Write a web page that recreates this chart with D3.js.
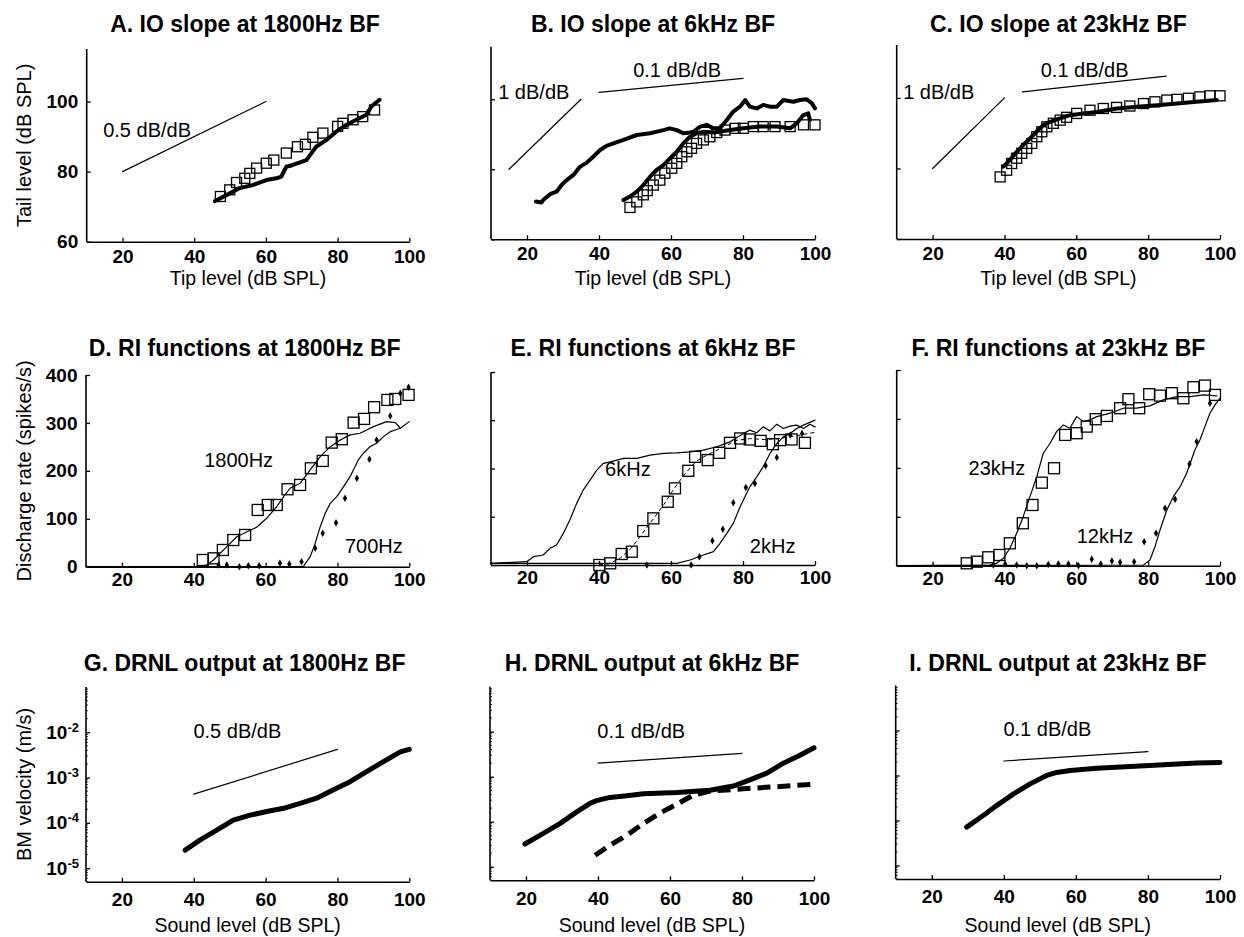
<!DOCTYPE html>
<html><head><meta charset="utf-8">
<script src="https://cdn.jsdelivr.net/npm/d3@7"></script>
<style>
body{margin:0;background:#fff}
svg{display:block}
</style>
</head><body>
<svg id="c" width="1244" height="937"></svg>
<script>
// ---------------- DATA ----------------
const xDomain = [10, 100];
const xTicks = [20, 40, 60, 80, 100];
const ioTicks = [60, 80, 100];
const riTicks = [0, 100, 200, 300, 400];
const bmTicks = [1e-5, 1e-4, 1e-3, 1e-2];

// A. IO slope at 1800Hz BF  [tip, tail]
const aModel = [[45.8,71.6],[49,73.3],[52.7,75.3],[56.4,76.2],[60.1,77.6],[62.9,78.1],[64.3,78.6],[65.7,81.4],[67.5,81.9],[71.3,83.3],[72.7,85.3],[74,87.1],[76.8,89],[79.6,91.4],[82.4,93.3],[85.2,94.8],[88,96.2],[89.4,98.6],[91.7,100.5]];
const aData = [[47.3,72.9],[49.9,74.8],[51.8,76.9],[54.1,78.1],[55.5,79.5],[57.4,81],[60.1,82.4],[62.2,83.3],[65.7,85.3],[68.8,87.1],[71,87.8],[73.1,89.8],[75.9,91],[80,92.9],[81.5,93.8],[84.3,94.8],[87,95.7],[90.3,97.6]];
const aSlope = [[20,80],[60,100]];

// B. IO slope at 6kHz BF
const bModel1 = [[22.5,70.8],[24,70.5],[24.5,71.2],[26.4,72.9],[28.2,73.6],[29.6,75.5],[31,76.9],[32.9,78.4],[34.7,80.7],[36.6,81.9],[38.4,83.6],[40.3,85.5],[42.1,86.7],[44,87.4],[46.8,88.4],[50.5,89.8],[54.2,90.3],[57.9,91.2],[59.7,91.7],[61.6,91.2],[63.4,90.3],[65.3,90.5],[66.2,90.7],[68.1,92.2],[69.9,92.7],[71.8,91.7],[73.6,91.7],[75.5,94.1],[77.3,96.5],[79.2,97.9],[80.6,99.8],[81.9,97.9],[83.8,97.4],[85.6,98.4],[87.5,97.9],[89.4,97.9],[91.2,99.8],[94,99.3],[95.8,99.8],[97.7,100],[99.1,98.9],[100,97.4]];
const bModel2 = [[46.8,71.2],[48.6,72.2],[50.5,73.6],[52.3,75.5],[54.2,77.9],[56,79.8],[57.9,81.2],[59.7,83.1],[61.6,85],[63.4,87.4],[65.3,89.3],[67.1,90.3],[69,90.7],[72,90.5],[76.4,91.2],[80.1,91.7],[84.7,92.2],[89.4,92.2],[93.1,91.7],[94.9,93.1],[96.8,95.5],[98.1,96],[98.6,94.1]];
const bData = [[48.6,69.1],[50.5,70.7],[52.3,72.7],[53.4,73.9],[55.1,75.5],[56.9,76.9],[58.3,78.9],[60.2,80.3],[61.6,81.7],[63,83.6],[64.4,85],[65.7,86],[67.1,87.4],[69,88.4],[70.8,89.3],[72.7,90.5],[75,91.2],[77.8,91.7],[80.1,91.7],[82.9,92.2],[85.6,92.2],[88.9,92.2],[93.1,92.2],[96.8,92.7],[100,92.7]];
const bSlope1 = [[15,80],[35,100]];
const bSlope2 = [[40,102],[80,106]];

// C. IO slope at 23kHz BF
const cModel = [[39.7,80.5],[41.5,82.4],[43.4,84.7],[45.2,86.6],[47.1,88.5],[48.9,90.4],[50.8,92.3],[52.7,93.2],[55.5,94.2],[58.2,95.1],[62,95.6],[65.7,96],[71.3,97],[76.9,97.5],[82.5,97.9],[88,98.4],[93.5,98.9],[99.1,99.4]];
const cData = [[38.8,77.6],[40.6,79.5],[42,81.4],[43.4,82.9],[44.8,84.3],[46.2,85.7],[47.6,87.1],[49,89],[50.4,90.4],[51.8,91.8],[53.6,92.8],[55.5,93.7],[57.3,94.5],[60.1,95.6],[63.8,96.5],[67.5,97],[71.2,97.3],[74.9,97.7],[78.7,98.4],[81.9,98.9],[85.2,99.4],[88,99.6],[91.2,99.9],[94.4,100.3],[97.2,100.6],[100,100.6]];
const cSlope1 = [[20,80],[40,100]];
const cSlope2 = [[45,101.7],[85,106.2]];

// D. RI functions at 1800Hz BF  [level, rate]
const d1800Model = [[10,0],[41.8,0],[43.6,3.5],[45.5,14],[49.2,41.8],[52,62.6],[54.8,73],[57.5,82.2],[60.3,101],[63.1,125.3],[65,146],[66.8,163.7],[69.6,174],[72.4,201.9],[75.2,229.6],[78,250.5],[80.8,264.5],[83.5,275],[86.3,278.5],[90,292.3],[93.7,302.7],[96.1,300.6],[97.5,288.9]];
const d1800Data = [[42.5,14],[45.5,17.5],[48.1,34.9],[51,55.7],[54.3,66.2],[57.8,118.4],[60.6,128.8],[63.1,128.8],[66.1,161.6],[69.6,170.6],[72.6,205.4],[75.9,220.7],[78.4,258.9],[81.2,266],[84.5,300.6],[87.4,308.4],[90.2,332.8],[93.9,348],[96.1,350],[99.8,358.5]];
const d700Model = [[10,0],[70.5,0],[72.4,20.9],[73.8,48.7],[75.2,83.5],[76.6,111.4],[78,132.3],[79.8,146.1],[81.7,167],[83.5,187.9],[85.8,222.8],[87.2,236.7],[89.1,250.5],[90.9,257.6],[92.8,271.4],[94.7,281.8],[97.5,288.9],[100,302.7]];
const d700Data = [[46.9,3.5],[49.2,3.5],[52.7,0],[55.2,2],[58.2,2],[64,7],[66.6,5.6],[70,10.5],[73.8,38.4],[75.9,69.7],[79.6,91.9],[82.1,142.8],[85.4,184.6],[88.9,224.2],[90.9,264.5],[94.7,314.6],[97.5,361.9],[99.8,374.5]];

// E. RI functions at 6kHz BF
const e6kModel = [[10,3.5],[19.9,6.9],[21.8,17.2],[24.5,20.7],[26.4,34.6],[28.2,41.4],[30.1,65.6],[31.9,93.2],[33.8,127.7],[35.6,155.3],[37.5,176],[39.4,196.7],[41.2,210.6],[43.1,213.9],[46.8,220.9],[50.5,220.9],[54.2,227.7],[57.9,231.2],[61.6,232.5],[65.3,234.6],[69,238.1],[72.7,245],[76.4,255.3],[80.1,272.7],[81.9,279.5],[83.8,274],[85.6,286.3],[87.5,278],[89.4,291.9],[91.2,283],[93.1,287.8],[94.9,289.9],[96.8,283],[98.6,291.9],[100,286.3]];
const e6kData = [[40.1,0],[43.1,3.5],[46.3,22.8],[49.1,27.6],[52.3,70.4],[55.1,96.7],[59.1,131.1],[61.1,158.8],[64.8,195.3],[66.7,224.2],[70.2,217.4],[73.4,232.5],[76.4,253.2],[79.2,262.3],[81.9,260.2],[84.9,257.3],[88.3,250.5],[90.3,258.8],[93.5,260.2],[97.2,253.2]];
const e6kFit = [[40,0],[43,3],[46,15],[49,35],[52,65],[55,95],[58,125],[61,160],[64,190],[67,215],[70,228],[74,242],[78,258],[82,262],[86,260],[90,262],[95,268],[100,275]];
const e2kModel = [[10,3.5],[61.6,3.5],[65.3,10.4],[69,20.7],[71.8,27.6],[73.6,44.9],[75.5,65.6],[77.3,86.3],[79.2,120.7],[80.1,134.6],[81.9,162.1],[83.8,182.8],[85.6,203.5],[87.5,231.2],[89.4,251.9],[91.2,265.6],[93.1,272.7],[94.9,283],[96.8,289.9],[100,300.2]];
const e2kData = [[53.3,0],[65.6,0],[67.9,17.2],[71.5,50.3],[74.4,73.9],[77.3,129],[80.8,160.7],[83.3,169],[86.3,205.6],[89.4,223],[93.1,269.2],[96.4,272.7]];

// F. RI functions at 23kHz BF
const f23kModel = [[10,0],[36,1.4],[37.8,4.9],[39.7,15.1],[41.5,35.6],[43.4,66.3],[45.2,100.2],[47.1,141.1],[49,182],[50.8,229.9],[52.7,250.3],[54.5,274],[56.4,287.7],[58.2,281],[60.1,304.7],[62,294.5],[63.8,298],[65.7,304.7],[69.4,311.7],[73.1,321.9],[76.8,321.9],[80.5,326.6],[84.2,338.9],[88,345.6],[91.7,345.6],[95.4,349.1],[99.1,347]];
const f23kData = [[29.5,4.9],[32.3,8.2],[35.5,17.2],[38.6,21.9],[41.5,45.8],[45.1,86.7],[47.8,124.1],[50.4,169.7],[53.8,199.2],[56.9,267.3],[60.1,270.8],[62.9,284.3],[65.4,299.4],[68.5,306.1],[72.2,321.9],[74.5,340.3],[77.5,321.9],[80.3,350.5],[83.3,347.6],[86.6,352.6],[89.8,342.3],[92.6,364.8],[95.8,368.1],[98.6,349.1]];
const f12kModel = [[10,0],[78.7,1.4],[80.5,11.7],[81.9,38.9],[83.3,73],[85.2,113.9],[87,141.1],[88.9,161.6],[90.7,189],[91.7,209.4],[93,236.6],[94.4,257],[95.8,284.3],[97.2,311.7],[98.6,328.6],[100,342.3]];
const f12kData = [[36.9,1.4],[40.2,3.4],[43.4,1.4],[46.2,0],[49,0],[52.2,2.7],[55,3.4],[57.8,3.4],[60.6,0],[64.3,13],[66.8,3.4],[69.9,9.6],[72.2,7],[76.1,8.2],[78.9,49.1],[82.2,66.3],[84.7,117.4],[87.5,135.8],[91.5,208],[93.5,253.6],[97.2,332.1]];

// G-I. DRNL output  [level, BM velocity m/s]
const gModel = [[37.6,2.5e-5],[41.8,4.2e-5],[46.4,6.9e-5],[51,1.15e-4],[55.7,1.48e-4],[60.3,1.78e-4],[65,2.1e-4],[69.6,2.7e-4],[74.2,3.5e-4],[78.9,5.4e-4],[83.5,8.1e-4],[88.1,1.35e-3],[92.8,2.24e-3],[97.5,3.7e-3],[100,4.2e-3]];
const gSlope = [[40,4.3e-4],[80,4.2e-3]];
const hModel = [[19.7,3.2e-5],[24.8,5.5e-5],[29.4,9.1e-5],[34.1,1.66e-4],[37.8,2.57e-4],[39.6,2.95e-4],[43.3,3.47e-4],[48,3.8e-4],[52.6,4.17e-4],[61.9,4.47e-4],[71.1,5e-4],[77.6,6.2e-4],[82.2,8.5e-4],[86.9,1.2e-3],[91.5,2e-3],[96.1,3e-3],[100,4.4e-3]];
const hLinear = [[39.2,1.8e-5],[43.3,3e-5],[48,5e-5],[52.6,9.1e-5],[57.2,1.55e-4],[61.9,2.45e-4],[66.5,3.9e-4],[71.1,4.8e-4],[80.4,5.4e-4],[89.6,6e-4],[100,6.8e-4]];
const hSlope = [[40,2e-3],[80,3.3e-3]];
const iModel = [[29.7,7.1e-5],[34.3,1.29e-4],[38,2.14e-4],[42.7,3.9e-4],[47.3,6.5e-4],[51.9,1e-3],[54.7,1.17e-3],[58.4,1.29e-3],[65.8,1.45e-3],[75.1,1.58e-3],[84.3,1.74e-3],[93.6,1.9e-3],[100,1.95e-3]];
const iSlope = [[40,2.1e-3],[80,3.4e-3]];

// Text labels
const titles = ["A. IO slope at 1800Hz BF","B. IO slope at 6kHz BF","C. IO slope at 23kHz BF",
  "D. RI functions at 1800Hz BF","E. RI functions at 6kHz BF","F. RI functions at 23kHz BF",
  "G. DRNL output at 1800Hz BF","H. DRNL output at 6kHz BF","I. DRNL output at 23kHz BF"];
const xLabels = ["Tip level (dB SPL)", "", "Sound level (dB SPL)"];
const yLabels = ["Tail level (dB SPL)", "Discharge rate (spikes/s)", "BM velocity (m/s)"];
const annotations = [
  [[14.6,90,"0.5 dB/dB"]],
  [[12,100,"1 dB/dB"],[49.5,106.3,"0.1 dB/dB"]],
  [[11.8,99.6,"1 dB/dB"],[50.1,106,"0.1 dB/dB"]],
  [[42.9,208.8,"1800Hz"],[82.1,28,"700Hz"]],
  [[41.7,184,"6kHz"],[81.9,25.5,"2kHz"]],
  [[30,185.5,"23kHz"],[60.1,47,"12kHz"]],
  [[39.9,7.4e-3,"0.5 dB/dB"]],
  [[39.8,7.1e-3,"0.1 dB/dB"]],
  [[39.9,7.6e-3,"0.1 dB/dB"]]
];

// ---------------- DRAWING ----------------
const FONT = '"Liberation Sans", Arial, Helvetica, sans-serif';
const svg = d3.select('#c');
svg.append('rect').attr('width',1244).attr('height',937).attr('fill','#fff');

const boxes = [
  {l:86.7,r:409.3,t:49,b:241.7},{l:491,r:815,t:46.8,b:239.3},{l:896.7,r:1220,t:45,b:239},
  {l:86,r:409.3,t:375,b:566.7},{l:491,r:815,t:372,b:565},{l:896.7,r:1220,t:370,b:565.7},
  {l:86,r:409.3,t:687,b:881.8},{l:490,r:814,t:686.7,b:880.3},{l:895.7,r:1220,t:685.5,b:879}
];
const rowCfg = [
  {yDom:[60,115], log:false, yTicks:ioTicks, xPad:7.5, titleY:31.5, xLabelY:285},
  {yDom:[0,400], log:false, yTicks:riTicks, xPad:6, titleY:356, xLabelY:null},
  {yDom:[5e-6,0.1], log:true, yTicks:bmTicks, xPad:11, titleY:671, xLabelY:931.5}
];

function styleAxis(g){
  g.attr('font-family', FONT).attr('font-size', 19).attr('font-weight','bold');
  g.select('.domain').attr('stroke','#000').attr('stroke-width',1.6);
  g.selectAll('.tick line').attr('stroke','#000').attr('stroke-width',1.3);
  g.selectAll('.tick text').attr('fill','#000');
}

const panels = [];
for (let i = 0; i < 9; i++) {
  const row = Math.floor(i/3), col = i%3;
  const bx = boxes[i], rc = rowCfg[row];
  const g = svg.append('g');
  const x = d3.scaleLinear().domain(xDomain).range([bx.l, bx.r]);
  const y = (rc.log ? d3.scaleLog() : d3.scaleLinear()).domain(rc.yDom).range([bx.b, bx.t]);

  const gx = g.append('g').attr('transform',`translate(0,${bx.b})`)
    .call(d3.axisBottom(x).tickValues(xTicks).tickSize(-4).tickSizeOuter(0).tickPadding(rc.xPad).tickFormat(d3.format('d')));
  styleAxis(gx);

  const yAxis = d3.axisLeft(y).tickValues(rc.yTicks).tickSize(-4).tickSizeOuter(0).tickPadding(col===0 ? (rc.log ? 7 : 8.5) : 8)
    .tickFormat(col===0 ? (rc.log ? (()=> '') : d3.format('d')) : (()=> ''));
  const gy = g.append('g').attr('transform',`translate(${bx.l},0)`).call(yAxis);
  styleAxis(gy);
  gy.select('.domain').attr('d', `M0,${bx.t}V${bx.b}`);
  if (rc.log) {
    const minors = y.ticks().filter(v => Math.abs(Math.log10(v) - Math.round(Math.log10(v))) > 1e-6);
    gy.selectAll('.minor').data(minors).enter().append('line')
      .attr('x1',0).attr('x2',2).attr('y1',d=>y(d)).attr('y2',d=>y(d))
      .attr('stroke','#000').attr('stroke-width',0.8);
    if (col === 0) {
      gy.selectAll('.tick text').each(function(d){
        const t = d3.select(this);
        t.text(null);
        t.append('tspan').text('10');
        t.append('tspan').attr('dy','-0.55em').attr('font-size',13).text(String(Math.round(Math.log10(d))));
      });
    }
  }

  svg.append('text').attr('x',(bx.l+bx.r)/2 - (col===0?3:0)).attr('y',rc.titleY)
    .attr('text-anchor','middle').attr('font-family',FONT).attr('font-weight','bold')
    .attr('font-size',23).text(titles[i]);
  if (rc.xLabelY) {
    svg.append('text').attr('x',(bx.l+bx.r)/2).attr('y',rc.xLabelY)
      .attr('text-anchor','middle').attr('font-family',FONT).attr('font-size',19.5).text(xLabels[row]);
  }
  if (col === 0) {
    const cy = (bx.t+bx.b)/2;
    svg.append('text').attr('transform',`translate(31,${cy}) rotate(-90)`)
      .attr('text-anchor','middle').attr('font-family',FONT).attr('font-size',20).text(yLabels[row]);
  }
  annotations[i].forEach(a => {
    svg.append('text').attr('x',x(a[0])).attr('y',y(a[1])).attr('font-family',FONT)
      .attr('font-size',20).text(a[2]);
  });
  panels.push({g,x,y});
}

function line(p, data, w, dash){
  const gen = d3.line().x(d=>p.x(d[0])).y(d=>p.y(d[1]));
  const path = p.g.append('path').datum(data).attr('d',gen).attr('fill','none')
    .attr('stroke','#000').attr('stroke-width',w).attr('stroke-linejoin','round').attr('stroke-linecap', dash ? 'butt' : 'round');
  if (dash) path.attr('stroke-dasharray',dash);
}
function squares(p, data, s){
  s = s || 10;
  p.g.append('g').selectAll('rect').data(data).enter().append('rect')
    .attr('x',d=>p.x(d[0])-s/2).attr('y',d=>p.y(d[1])-s/2).attr('width',s).attr('height',s)
    .attr('fill','none').attr('stroke','#000').attr('stroke-width',1.3);
}
function dots(p, data){
  p.g.append('g').selectAll('path').data(data).enter().append('path')
    .attr('d', d3.symbol(d3.symbolDiamond, 16))
    .attr('transform',d=>`translate(${p.x(d[0])},${p.y(d[1])})`).attr('fill','#000');
}

// A
line(panels[0], aSlope, 1.2);
line(panels[0], aModel, 4);
squares(panels[0], aData);
// B
line(panels[1], bSlope1, 1.2); line(panels[1], bSlope2, 1.2);
line(panels[1], bModel1, 4); line(panels[1], bModel2, 4);
squares(panels[1], bData);
// C
line(panels[2], cSlope1, 1.2); line(panels[2], cSlope2, 1.2);
line(panels[2], cModel, 4);
squares(panels[2], cData);
// D
line(panels[3], d1800Model, 1.2); line(panels[3], d700Model, 1.2);
squares(panels[3], d1800Data, 11); dots(panels[3], d700Data);
// E
line(panels[4], e6kModel, 1.2); line(panels[4], e2kModel, 1.2); line(panels[4], e6kFit, 1, '4,3');
squares(panels[4], e6kData, 11); dots(panels[4], e2kData);
// F
line(panels[5], f23kModel, 1.2); line(panels[5], f12kModel, 1.2);
squares(panels[5], f23kData, 11); dots(panels[5], f12kData);
// G
line(panels[6], gSlope, 1.2); line(panels[6], gModel, 5);
// H
line(panels[7], hSlope, 1.2); line(panels[7], hModel, 5); line(panels[7], hLinear, 5, '13,7');
// I
line(panels[8], iSlope, 1.2); line(panels[8], iModel, 5);
</script>
</body></html>
